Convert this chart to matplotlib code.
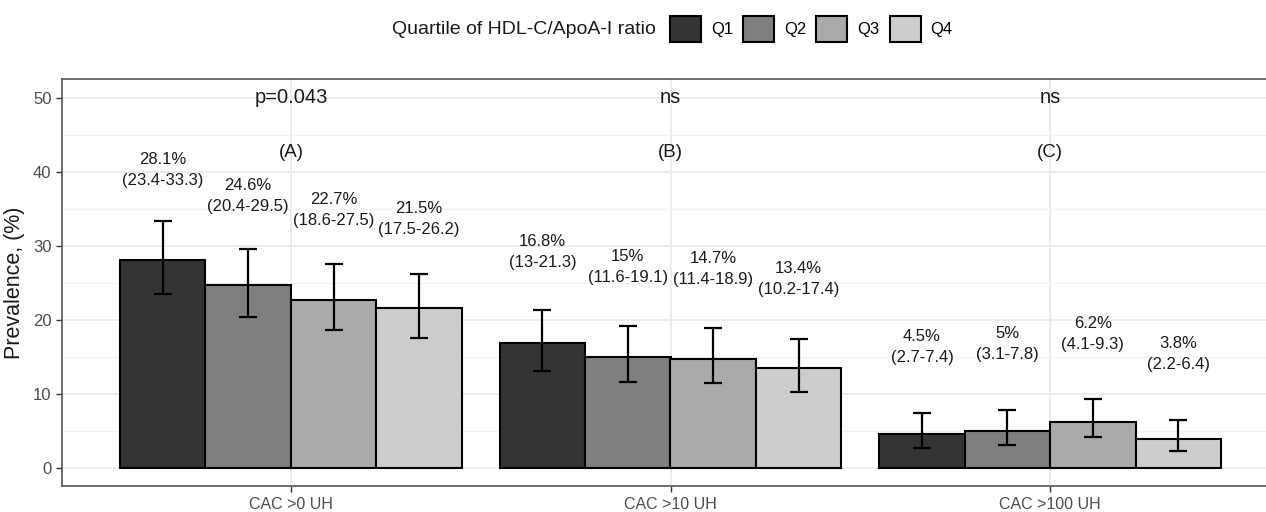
import matplotlib
matplotlib.use("Agg")
import matplotlib.pyplot as plt
from matplotlib.patches import Patch
import numpy as np

plt.rcParams['font.family'] = ['Liberation Sans', 'DejaVu Sans']

categories = ["CAC >0 UH", "CAC >10 UH", "CAC >100 UH"]
quartiles = ["Q1", "Q2", "Q3", "Q4"]
# prevalence (%) per quartile, per category
prev = {
    "Q1": [28.1, 16.8, 4.5],
    "Q2": [24.6, 15.0, 5.0],
    "Q3": [22.7, 14.7, 6.2],
    "Q4": [21.5, 13.4, 3.8],
}
lower = {
    "Q1": [23.4, 13.0, 2.7],
    "Q2": [20.4, 11.6, 3.1],
    "Q3": [18.6, 11.4, 4.1],
    "Q4": [17.5, 10.2, 2.2],
}
upper = {
    "Q1": [33.3, 21.3, 7.4],
    "Q2": [29.5, 19.1, 7.8],
    "Q3": [27.5, 18.9, 9.3],
    "Q4": [26.2, 17.4, 6.4],
}
prev_text = {
    "Q1": ["28.1%", "16.8%", "4.5%"],
    "Q2": ["24.6%", "15%", "5%"],
    "Q3": ["22.7%", "14.7%", "6.2%"],
    "Q4": ["21.5%", "13.4%", "3.8%"],
}
ci_text = {
    "Q1": ["(23.4-33.3)", "(13-21.3)", "(2.7-7.4)"],
    "Q2": ["(20.4-29.5)", "(11.6-19.1)", "(3.1-7.8)"],
    "Q3": ["(18.6-27.5)", "(11.4-18.9)", "(4.1-9.3)"],
    "Q4": ["(17.5-26.2)", "(10.2-17.4)", "(2.2-6.4)"],
}
pvalues = ["p=0.043", "ns", "ns"]
panel_tags = ["(A)", "(B)", "(C)"]
colors = ["#343434", "#7f7f7f", "#aaaaaa", "#cdcdcd"]

W, H = 1266, 512
fig = plt.figure(figsize=(W / 100, H / 100), dpi=100)
ax_left, ax_right, ax_top, ax_bottom = 62, 1279, 79, 486
ax = fig.add_axes([ax_left / W, 1 - ax_bottom / H, (ax_right - ax_left) / W, (ax_bottom - ax_top) / H])

x = np.arange(1, len(categories) + 1)
bw = 0.225
grid_c = "#ebebeb"
ax.set_axisbelow(True)
ax.set_xlim(0.397, 3.603)
ax.set_ylim(-2.5, 52.5)
ax.set_yticks([0, 10, 20, 30, 40, 50])
ax.set_yticks([5, 15, 25, 35, 45], minor=True)
ax.set_xticks(x)
ax.set_xticklabels(categories)
ax.grid(True, which='major', axis='both', color=grid_c, linewidth=1.3)
ax.grid(True, which='minor', axis='y', color="#f2f2f2", linewidth=0.9)
ax.tick_params(axis='y', which='minor', length=0)
ax.tick_params(axis='both', which='major', length=4, width=1, color="#333333",
               labelcolor="#4d4d4d", labelsize=12)
ax.tick_params(axis='x', labelsize=11.5, pad=4)
for s in ax.spines.values():
    s.set_color("#555555")
    s.set_linewidth(1.2)

handles = []
for i, q in enumerate(quartiles):
    xs = x + (i - 1.5) * bw
    v = np.array(prev[q])
    lo = np.array(lower[q])
    hi = np.array(upper[q])
    ax.bar(xs, v, width=bw, color=colors[i], edgecolor="black", linewidth=1.5, zorder=2)
    ax.errorbar(xs, v, yerr=[v - lo, hi - v], fmt='none', ecolor="black",
                elinewidth=1.6, capsize=6.5, capthick=1.6, zorder=3)
    for j in range(len(categories)):
        ly = hi[j] + 9.5 - 0.08 * hi[j]
        ax.text(xs[j], ly, prev_text[q][j] + "\n" + ci_text[q][j], ha='center', va='center',
                fontsize=12, color="#1a1a1a", linespacing=1.5, zorder=4)
    handles.append(Patch(facecolor=colors[i], edgecolor="black", linewidth=1.5, label=q))

for j in range(len(categories)):
    ax.text(x[j], 50, pvalues[j], ha='center', va='center', fontsize=14.5, color="#1a1a1a")
    ax.text(x[j], 42.6, panel_tags[j], ha='center', va='center', fontsize=13.5, color="#1a1a1a")

ax.set_ylabel("Prevalence, (%)", fontsize=15.5, color="#1a1a1a", labelpad=6)

fig.text(392 / W, 1 - 29 / H, "Quartile of HDL-C/ApoA-I ratio", ha='left', va='center',
         fontsize=14, color="#1a1a1a")
fig.legend(handles=handles, loc='center left', bbox_to_anchor=(670 / W, 1 - 29 / H),
           ncol=4, frameon=False, fontsize=12, handlelength=1.86, handleheight=2.0,
           handletextpad=0.6, columnspacing=0.6, borderaxespad=0, borderpad=0)

fig.savefig("out.png", dpi=100)
